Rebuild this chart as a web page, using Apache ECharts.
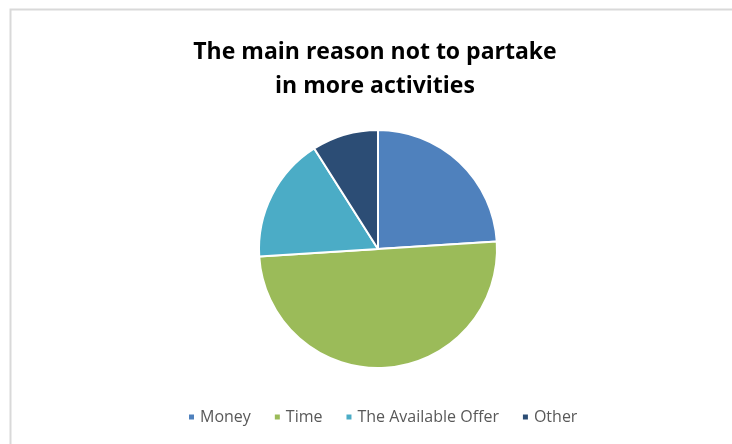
<!DOCTYPE html>
<html>
<head>
<meta charset="utf-8">
<script src="https://cdn.jsdelivr.net/npm/echarts@6/dist/echarts.min.js"></script>
<style>
  html, body { margin: 0; padding: 0; background: #fff; }
  #chart { width: 732px; height: 444px; }
</style>
</head>
<body>
<div id="chart"></div>
<script>
// Reasons for not joining more activities (share of respondents, %)
const categories = ['Money', 'Time', 'The Available Offer', 'Other'];
const shares = [24, 50, 17, 9];
const colors = ['#4f81bd', '#9bbb59', '#4bacc6', '#2c4d75'];

const chart = echarts.init(document.getElementById('chart'), null, { renderer: 'canvas' });

chart.setOption({
  animation: false,
  color: colors,
  graphic: [{
    type: 'rect',
    shape: { x: 10.5, y: 9.5, width: 740, height: 460 },
    style: { fill: 'none', stroke: '#d9d9d9', lineWidth: 2 },
    silent: true,
    z: -1
  }],
  title: {
    text: 'The main reason not to partake\nin more activities',
    left: 370,
    textAlign: 'center',
    top: 30,
    textStyle: {
      fontFamily: 'Open Sans',
      fontWeight: 'bold',
      fontSize: 23,
      lineHeight: 34,
      color: '#000'
    }
  },
  legend: {
    data: categories,
    top: 404,
    left: 182,
    icon: 'rect',
    itemWidth: 7,
    itemHeight: 7,
    itemGap: 22,
    textStyle: {
      fontFamily: 'Open Sans',
      fontSize: 16,
      color: '#595959'
    }
  },
  series: [{
    type: 'pie',
    center: [378, 249],
    radius: [0, 119],
    startAngle: 90,
    clockwise: true,
    label: { show: false },
    labelLine: { show: false },
    itemStyle: { borderColor: '#fff', borderWidth: 2 },
    data: categories.map((name, i) => ({ name, value: shares[i] }))
  }]
});
</script>
</body>
</html>
